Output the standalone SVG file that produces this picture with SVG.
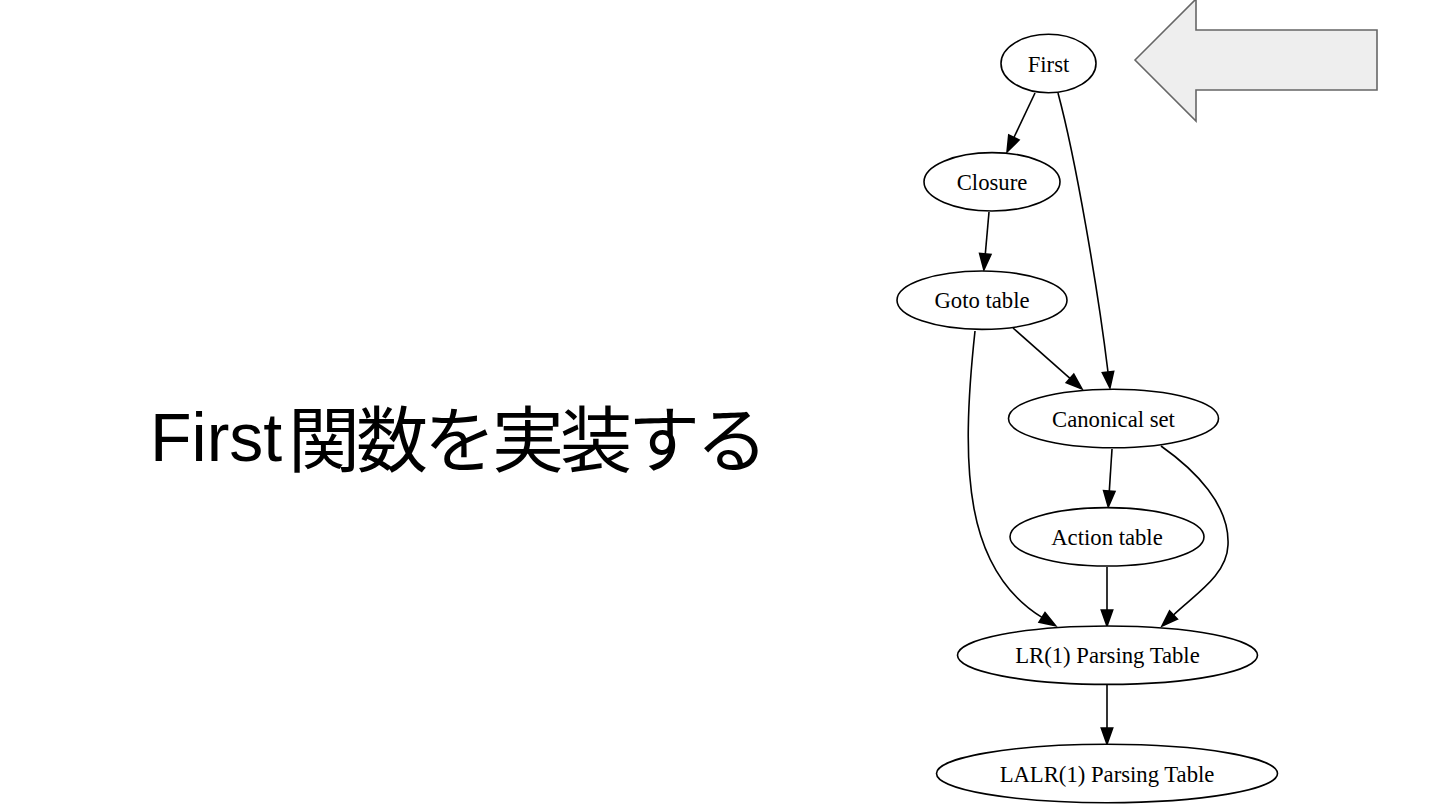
<svg xmlns="http://www.w3.org/2000/svg" width="1440" height="810" viewBox="0 0 1440 810">
<style>
.node ellipse{fill:#ffffff;stroke:#000000;stroke-width:1.6}
.node text{font-family:"Liberation Serif","Times New Roman",serif;font-size:22.7px;fill:#000000;text-anchor:middle}
.edge{fill:none;stroke:#000000;stroke-width:1.6}
.title{font-family:"Liberation Sans",Arial,sans-serif;font-size:68px;fill:#000000}
.jp{font-family:"Noto Sans CJK JP","Noto Sans CJK SC",sans-serif;font-size:72px;letter-spacing:-4px}
</style>
<defs>
<marker id="ah" markerUnits="userSpaceOnUse" markerWidth="20" markerHeight="14" refX="0" refY="0" viewBox="0 -7 20 14" orient="auto" overflow="visible">
<path d="M0,-5.7 L16,0 L0,5.7 Z" fill="#000000" stroke="#000000" stroke-width="1.6"/>
</marker>
</defs>
<rect x="0" y="0" width="1440" height="810" fill="#ffffff"/>

<text id="title" class="title" x="150" y="461">First<tspan class="jp" x="288" dy="5">関数を実装する</tspan></text>

<g id="pointer-arrow">
<polygon points="1135,60 1196,-1 1196,30 1377,30 1377,90 1196,90 1196,121" fill="#eeeeee" stroke="#666666" stroke-width="1.6"/>
</g>

<g id="connectors">
<path class="edge" marker-end="url(#ah)" d="M1035,93 L1013.9,137.5"/>
<path class="edge" marker-end="url(#ah)" d="M1058,93 C1076,160 1098,290 1108,372"/>
<path class="edge" marker-end="url(#ah)" d="M989,212 L985.3,254"/>
<path class="edge" marker-end="url(#ah)" d="M1013,328 L1070,378.4"/>
<path class="edge" marker-end="url(#ah)" d="M975,331 C960,470 965,570 1042,617.4"/>
<path class="edge" marker-end="url(#ah)" d="M1112,449 L1109.3,491"/>
<path class="edge" marker-end="url(#ah)" d="M1161,446 C1195,470 1230,505 1228,545 C1227,575 1195.5,594 1173.5,615"/>
<path class="edge" marker-end="url(#ah)" d="M1107,567 L1107,610"/>
<path class="edge" marker-end="url(#ah)" d="M1107,685 L1107,728"/>
</g>

<g id="node-first" class="node">
<ellipse cx="1048.5" cy="63.5" rx="47.5" ry="29.2"/>
<text x="1048.5" y="71.5">First</text>
</g>
<g id="node-closure" class="node">
<ellipse cx="992" cy="181.8" rx="68" ry="29.2"/>
<text x="992" y="189.8">Closure</text>
</g>
<g id="node-goto" class="node">
<ellipse cx="982" cy="300.2" rx="85" ry="29.2"/>
<text x="982" y="308.2">Goto table</text>
</g>
<g id="node-canonical" class="node">
<ellipse cx="1113.5" cy="418.5" rx="105" ry="29.2"/>
<text x="1113.5" y="426.5">Canonical set</text>
</g>
<g id="node-action" class="node">
<ellipse cx="1107" cy="536.8" rx="97" ry="29.2"/>
<text x="1107" y="544.8">Action table</text>
</g>
<g id="node-lr1" class="node">
<ellipse cx="1107.5" cy="655.2" rx="150" ry="29.2"/>
<text x="1107.5" y="663.2">LR(1) Parsing Table</text>
</g>
<g id="node-lalr1" class="node">
<ellipse cx="1107" cy="773.5" rx="170.5" ry="29.2"/>
<text x="1107" y="781.5">LALR(1) Parsing Table</text>
</g>
</svg>
